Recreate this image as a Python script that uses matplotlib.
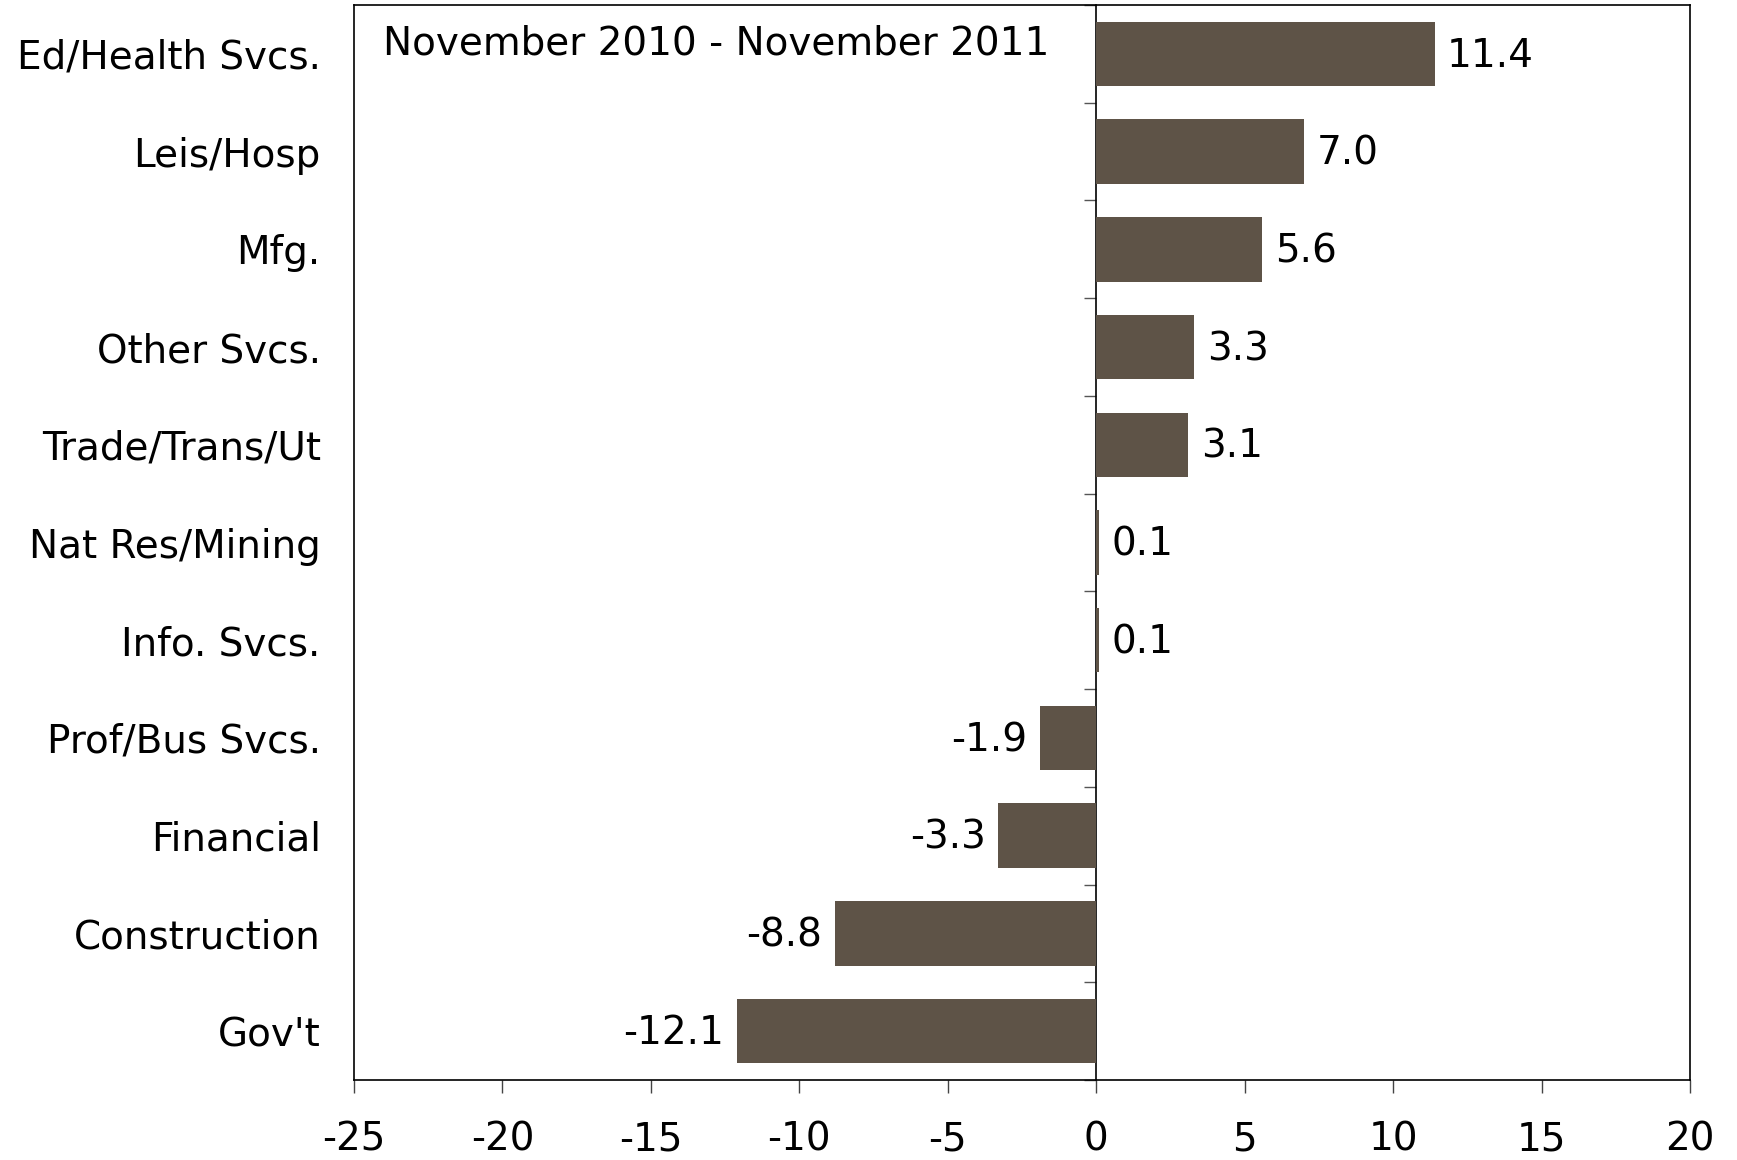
import matplotlib
matplotlib.use("Agg")
import matplotlib.pyplot as plt
import numpy as np

categories = ["Ed/Health Svcs.", "Leis/Hosp", "Mfg.", "Other Svcs.", "Trade/Trans/Ut",
              "Nat Res/Mining", "Info. Svcs.", "Prof/Bus Svcs.", "Financial",
              "Construction", "Gov't"]
values = [11.4, 7.0, 5.6, 3.3, 3.1, 0.1, 0.1, -1.9, -3.3, -8.8, -12.1]
xticks = [-25, -20, -15, -10, -5, 0, 5, 10, 15, 20]
title_text = "November 2010 - November 2011"

FS = 28
plt.rcParams['font.family'] = ['DejaVu Sans']
fig = plt.figure(figsize=(17.37, 11.6), dpi=100)
ax = fig.add_axes([354/1737, 1 - 1080/1160, (1690-354)/1737, (1080-5)/1160])

y = np.arange(len(categories))
ax.barh(y, values, height=0.66, color="#5E5347", zorder=3)
ax.set_ylim(len(categories) - 0.5, -0.5)
ax.set_xlim(-25, 20)
ax.set_xticks(xticks)
ax.set_xticklabels([str(t) for t in xticks], fontsize=FS)
ax.tick_params(axis='x', direction='out', length=9.5, width=1, color='#444444', pad=20)
ax.set_yticks(y)
ax.set_yticklabels(categories, fontsize=FS)
ax.tick_params(axis='y', length=0, pad=24)
for s in ax.spines.values():
    s.set_color('black')
    s.set_linewidth(1.2)

for yi, v in zip(y, values):
    if v >= 0:
        ax.annotate(f"{v:.1f}", (v, yi), xytext=(9, -1.5), textcoords='offset points',
                    ha='left', va='center', fontsize=FS)
    else:
        ax.annotate(f"{v:.1f}", (v, yi), xytext=(-9, -1.5), textcoords='offset points',
                    ha='right', va='center', fontsize=FS)

# zero axis with category separator ticks
sec = ax.secondary_yaxis(25/45)
sec.set_yticks(np.arange(len(categories) + 1) - 0.5)
sec.set_yticklabels([])
sec.yaxis.set_ticks_position('left')
sec.tick_params(axis='y', direction='out', length=9, width=1, color='#555555')
for s in sec.spines.values():
    s.set_color('black')
    s.set_linewidth(1.2)

ax.text(0.022, 0.964, title_text, transform=ax.transAxes, fontsize=FS,
        ha='left', va='center')

fig.savefig("out.png", dpi=100)
